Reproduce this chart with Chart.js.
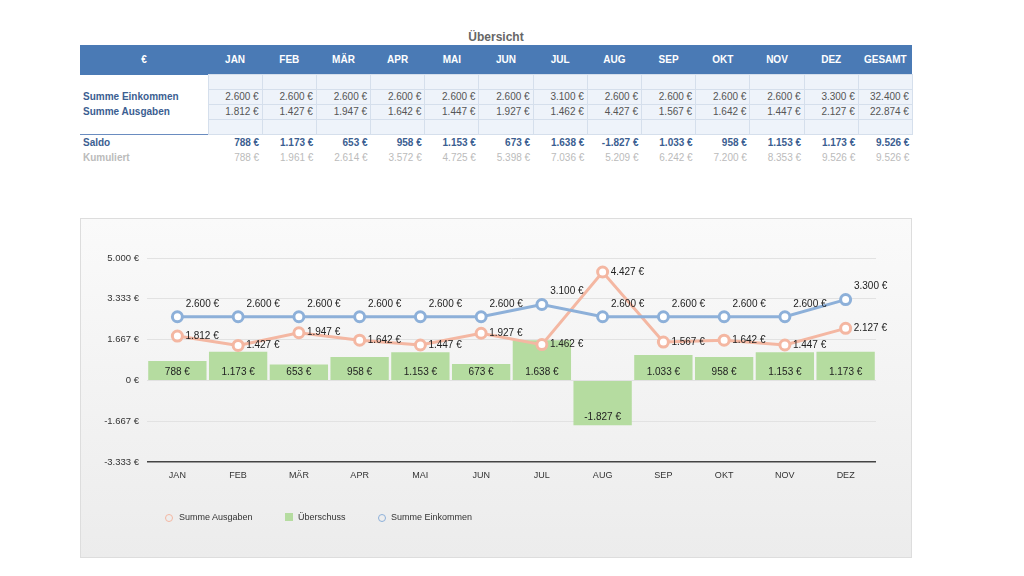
<!DOCTYPE html>
<html><head><meta charset="utf-8">
<script src="https://cdn.jsdelivr.net/npm/chart.js@4"></script>
<style>
body{margin:0;width:1024px;height:576px;background:#fff;font-family:"Helvetica Neue",Arial,"Liberation Sans",sans-serif;position:relative;overflow:hidden}
#title{position:absolute;left:0;width:992px;top:30px;text-align:center;font-size:12px;font-weight:bold;color:#666}
table{position:absolute;left:80px;top:45px;border-collapse:collapse;table-layout:fixed;font-size:10px}
td{height:14px;padding:0 3px;text-align:right;white-space:nowrap;overflow:hidden;line-height:14px}
tr.h td{background:#4a7ab5;color:#fff;font-weight:bold;text-align:center;height:29px}
td.l{text-align:left;font-weight:bold;color:#3b5e91}
tr.e td.v{background:#eef3fa;border:1px solid #d5dfec;color:#555}
tr.s td{color:#3b5e91;font-weight:bold;border-top:1.5px solid #6a8cc0;height:16px}
tr.k td{color:#bbb}
tr.k td.l{color:#bbb}
#box{position:absolute;left:80px;top:218px;width:832px;height:340px;background:linear-gradient(#fafafa,#ececec);border:1px solid #ddd;box-sizing:border-box}
#c{position:absolute;left:80px;top:218px}
#leg{position:absolute;top:512px;left:165px;font-size:9px;color:#333}
#leg span{position:absolute;white-space:nowrap}
</style></head><body>
<div id="title">Übersicht</div>
<table id="t"></table>
<div id="box"></div>
<canvas id="c" width="832" height="340" style="width:832px;height:340px"></canvas>
<div id="leg">
<span style="left:0"><span style="position:absolute;left:0;top:2px;width:6px;height:6px;border:1.5px solid #f4b7a2;border-radius:50%"></span><span style="left:14px;position:absolute">Summe Ausgaben</span></span>
<span style="left:120px"><span style="position:absolute;left:0;top:1px;width:8px;height:8px;background:#b5dca0"></span><span style="left:13px;position:absolute">Überschuss</span></span>
<span style="left:213px"><span style="position:absolute;left:0;top:2px;width:6px;height:6px;border:1.5px solid #8db0d9;border-radius:50%"></span><span style="left:13px;position:absolute">Summe Einkommen</span></span>
</div>
<script>
const months=["JAN","FEB","MÄR","APR","MAI","JUN","JUL","AUG","SEP","OKT","NOV","DEZ"];
const einkommen=[2600,2600,2600,2600,2600,2600,3100,2600,2600,2600,2600,3300];
const ausgaben=[1812,1427,1947,1642,1447,1927,1462,4427,1567,1642,1447,2127];
const saldo=[788,1173,653,958,1153,673,1638,-1827,1033,958,1153,1173];
const kumuliert=[788,1961,2614,3572,4725,5398,7036,5209,6242,7200,8353,9526];
const yTicks=[-3333,-1667,0,1667,3333,5000];
const fmt=v=>v.toLocaleString('de-DE')+' €';
const sum=a=>a.reduce((x,y)=>x+y,0);
const t=document.getElementById('t');
let cg='<colgroup><col style="width:128px">'+Array(13).fill('<col style="width:54.2px">').join('')+'</colgroup>';
let h='<tr class="h"><td>€</td>'+months.map(m=>'<td>'+m+'</td>').join('')+'<td>GESAMT</td></tr>';
const emp='<tr class="e"><td></td>'+Array(13).fill('<td class="v"></td>').join('')+'</tr>';
const row=(n,a,tot,c)=>'<tr class="'+c+'"><td class="l">'+n+'</td>'+a.map(v=>'<td class="v">'+fmt(v)+'</td>').join('')+'<td class="v">'+fmt(tot)+'</td></tr>';
t.innerHTML=cg+h+emp+row('Summe Einkommen',einkommen,sum(einkommen),'e')+row('Summe Ausgaben',ausgaben,sum(ausgaben),'e')+emp+
 row('Saldo',saldo,sum(saldo),'s')+row('Kumuliert',kumuliert,kumuliert[11],'k');
const labelsPlugin={id:'lbl',afterDatasetsDraw(ch){
 const ctx=ch.ctx;ctx.save();ctx.font='10px "Helvetica Neue",Arial,sans-serif';ctx.fillStyle='#222';
 ch.data.datasets.forEach((ds,i)=>{const meta=ch.getDatasetMeta(i);
  meta.data.forEach((el,j)=>{const v=ds.data[j];
   if(ds.type==='bar'){ctx.textAlign='center';ctx.textBaseline='middle';
     const y=v>=0?ch.scales.y.getPixelForValue(0)-8:el.y-8;ctx.fillText(fmt(v),el.x,y);}
   else if(i===0){ctx.textAlign='left';ctx.textBaseline='middle';ctx.fillText(fmt(v),el.x+8,el.y);}
   else{ctx.textAlign='center';ctx.textBaseline='bottom';ctx.fillText(fmt(v),el.x+25,el.y-8);}
  });});ctx.restore();}};
new Chart(document.getElementById('c'),{
 data:{labels:months,datasets:[
  {type:'line',label:'Summe Ausgaben',data:ausgaben,borderColor:'#f4b7a2',backgroundColor:'#fff',borderWidth:3,pointRadius:5,pointBorderWidth:3,pointBackgroundColor:'#fff',tension:0,order:1},
  {type:'line',label:'Summe Einkommen',data:einkommen,borderColor:'#8db0d9',backgroundColor:'#fff',borderWidth:3,pointRadius:5,pointBorderWidth:3,pointBackgroundColor:'#fff',tension:0,order:0},
  {type:'bar',label:'Überschuss',data:saldo,backgroundColor:'#b5dca0',barPercentage:0.96,categoryPercentage:1,order:2}
 ]},
 options:{responsive:false,animation:false,
  layout:{padding:{left:7,right:36,top:40,bottom:56}},
  plugins:{legend:{display:false},tooltip:{enabled:false}},
  scales:{
   x:{grid:{display:false},border:{display:false},afterFit:s=>{s.height=40},
      ticks:{color:'#333',font:{size:9},padding:0}},
   y:{min:-3333,max:5000,afterFit:s=>{s.width=60},
      afterBuildTicks:s=>{s.ticks=yTicks.map(v=>({value:v}))},
      grid:{color:ctx=>ctx.tick&&ctx.tick.value===-3333?'#444':'#e2e2e2',lineWidth:ctx=>ctx.tick&&ctx.tick.value===-3333?1.5:1,drawTicks:false},
      border:{display:false},
      ticks:{color:'#333',font:{size:9.5},padding:8,callback:v=>fmt(v)}}
  }},
 plugins:[labelsPlugin]});
</script>
</body></html>
